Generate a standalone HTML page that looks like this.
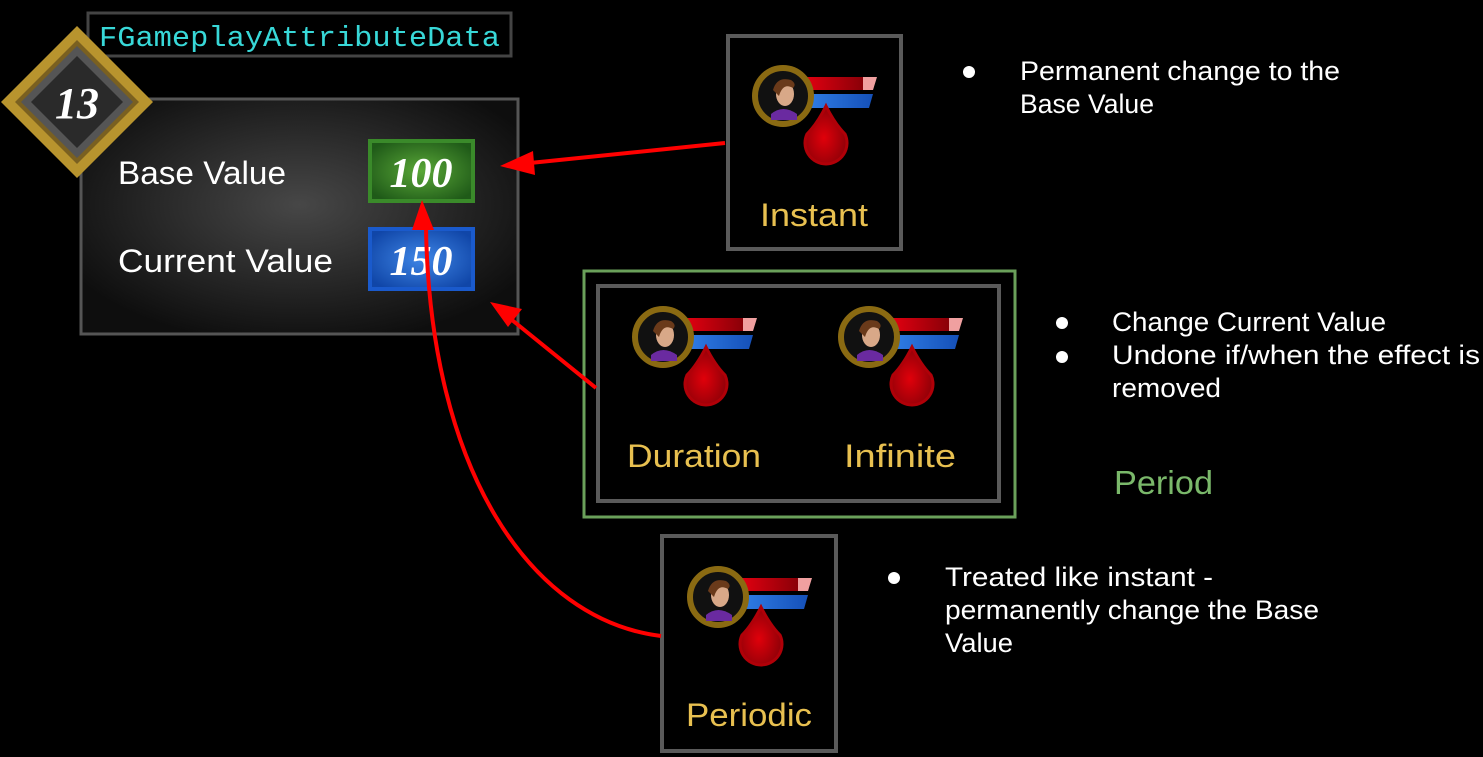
<!DOCTYPE html>
<html><head><meta charset="utf-8"><style>
html,body{margin:0;padding:0;background:#000;}
svg{display:block;}
.t{font-family:"Liberation Sans",sans-serif;}
</style></head><body>
<svg width="1483" height="757" viewBox="0 0 1483 757" xmlns="http://www.w3.org/2000/svg">
<defs>
<radialGradient id="pg" cx="0.5" cy="0.45" r="0.6">
<stop offset="0" stop-color="#474747"/><stop offset="1" stop-color="#0e0e0e"/></radialGradient>
<radialGradient id="gg" cx="0.5" cy="0.5" r="0.6"><stop offset="0" stop-color="#5aa838"/><stop offset="1" stop-color="#1f5a18"/></radialGradient>
<radialGradient id="bg" cx="0.5" cy="0.5" r="0.6"><stop offset="0" stop-color="#3f86e6"/><stop offset="1" stop-color="#1046a8"/></radialGradient>
<radialGradient id="dg" cx="0.45" cy="0.55" r="0.55"><stop offset="0" stop-color="#e0000a"/><stop offset="1" stop-color="#900008"/></radialGradient>
<linearGradient id="rb" x1="0" x2="1"><stop offset="0" stop-color="#e00010"/><stop offset="1" stop-color="#8a0008"/></linearGradient>
<linearGradient id="bb" x1="0" x2="1"><stop offset="0" stop-color="#2f7de6"/><stop offset="1" stop-color="#1550b8"/></linearGradient>
<g id="ic">
<polygon points="24,-19 80,-19 80,-6 24,-6" fill="url(#rb)"/>
<polygon points="80,-19 94,-19 90,-6 80,-6" fill="#f0a0a0"/>
<polygon points="24,-2 90,-2 86,12 24,12" fill="url(#bb)"/>
<circle cx="0" cy="0" r="28" fill="#111" stroke="#8a6a12" stroke-width="6"/>
<path d="M-12,18 Q0,8 14,18 L14,24 L-12,24 Z" fill="#6a2aa0"/>
<ellipse cx="2" cy="-2" rx="9" ry="12" fill="#d8a888"/>
<path d="M-10,-6 Q-6,-20 8,-16 Q14,-12 10,-8 Q0,-14 -4,0 Z" fill="#6a3a1a"/>
<path d="M43,10 Q52,28 62,38 A21,21 0 1 1 24,38 Q34,28 43,10 Z" fill="url(#dg)" stroke="#b00008" stroke-width="3"/>
</g>
</defs>

<rect x="88" y="13" width="423" height="43" fill="#000" stroke="#444" stroke-width="3"/>
<text x="99" y="46" font-family="Liberation Mono,monospace" font-size="29" fill="#38d8d8" textLength="401" lengthAdjust="spacingAndGlyphs">FGameplayAttributeData</text>

<rect x="81" y="99" width="437" height="235" fill="url(#pg)" stroke="#555" stroke-width="3"/>
<text class="t" x="118" y="184" font-size="32" fill="#fff" textLength="168" lengthAdjust="spacingAndGlyphs">Base Value</text>
<text class="t" x="118" y="272" font-size="32" fill="#fff" textLength="215" lengthAdjust="spacingAndGlyphs">Current Value</text>
<rect x="370" y="141" width="103" height="60" fill="url(#gg)" stroke="#3a8a2a" stroke-width="4"/>
<text x="421" y="187" text-anchor="middle" font-family="Liberation Serif,serif" font-style="italic" font-weight="bold" font-size="42" fill="#fff">100</text>
<rect x="370" y="229" width="103" height="60" fill="url(#bg)" stroke="#1a5acc" stroke-width="4"/>
<text x="421" y="275" text-anchor="middle" font-family="Liberation Serif,serif" font-style="italic" font-weight="bold" font-size="42" fill="#fff">150</text>

<polygon points="77,26 153,102 77,178 1,102" fill="#b8942e"/>
<polygon points="77,40 139,102 77,164 15,102" fill="#7a6020"/>
<polygon points="77,46 133,102 77,158 21,102" fill="#555"/>
<polygon points="77,56 123,102 77,148 31,102" fill="#2a2a2a"/>
<text x="77" y="118" text-anchor="middle" font-family="Liberation Serif,serif" font-style="italic" font-weight="bold" font-size="44" fill="#fff">13</text>

<rect x="728" y="36" width="173" height="213" fill="#000" stroke="#5a5a5a" stroke-width="4"/>
<use href="#ic" x="783" y="96"/>
<text class="t" x="814" y="226" text-anchor="middle" font-size="32" fill="#e8c050" textLength="108" lengthAdjust="spacingAndGlyphs">Instant</text>

<rect x="584" y="271" width="431" height="246" fill="none" stroke="#6aa05a" stroke-width="3"/>
<rect x="598" y="286" width="401" height="215" fill="#000" stroke="#5a5a5a" stroke-width="4"/>
<use href="#ic" x="663" y="337"/>
<use href="#ic" x="869" y="337"/>
<text class="t" x="694" y="467" text-anchor="middle" font-size="32" fill="#e8c050" textLength="134" lengthAdjust="spacingAndGlyphs">Duration</text>
<text class="t" x="900" y="467" text-anchor="middle" font-size="32" fill="#e8c050" textLength="112" lengthAdjust="spacingAndGlyphs">Infinite</text>

<rect x="662" y="536" width="174" height="215" fill="#000" stroke="#5a5a5a" stroke-width="4"/>
<use href="#ic" x="718" y="597"/>
<text class="t" x="749" y="726" text-anchor="middle" font-size="32" fill="#e8c050" textLength="126" lengthAdjust="spacingAndGlyphs">Periodic</text>

<line x1="725" y1="143" x2="530" y2="163" stroke="#ff0000" stroke-width="4"/>
<polygon points="500,166 533,151 535,175" fill="#ff0000"/>
<line x1="596" y1="388" x2="512" y2="320" stroke="#ff0000" stroke-width="4"/>
<polygon points="490,302 522,309 508,327" fill="#ff0000"/>
<path d="M661,636 C530,620 430,470 426,228" fill="none" stroke="#ff0000" stroke-width="4"/>
<polygon points="422,200 434,230 412,230" fill="#ff0000"/>

<g class="t" font-size="27" fill="#fff">
<circle cx="969" cy="72" r="6"/>
<text x="1020" y="80" textLength="320" lengthAdjust="spacingAndGlyphs">Permanent change to the</text>
<text x="1020" y="113" textLength="134" lengthAdjust="spacingAndGlyphs">Base Value</text>
<circle cx="1062" cy="323" r="6"/>
<circle cx="1062" cy="357" r="6"/>
<text x="1112" y="331" textLength="274" lengthAdjust="spacingAndGlyphs">Change Current Value</text>
<text x="1112" y="364" textLength="368" lengthAdjust="spacingAndGlyphs">Undone if/when the effect is</text>
<text x="1112" y="397" textLength="109" lengthAdjust="spacingAndGlyphs">removed</text>
<circle cx="894" cy="578" r="6"/>
<text x="945" y="586" textLength="268" lengthAdjust="spacingAndGlyphs">Treated like instant -</text>
<text x="945" y="619" textLength="374" lengthAdjust="spacingAndGlyphs">permanently change the Base</text>
<text x="945" y="652" textLength="68" lengthAdjust="spacingAndGlyphs">Value</text>
</g>
<text class="t" x="1114" y="494" font-size="33" fill="#7ab86a" textLength="99" lengthAdjust="spacingAndGlyphs">Period</text>
</svg>
</body></html>
